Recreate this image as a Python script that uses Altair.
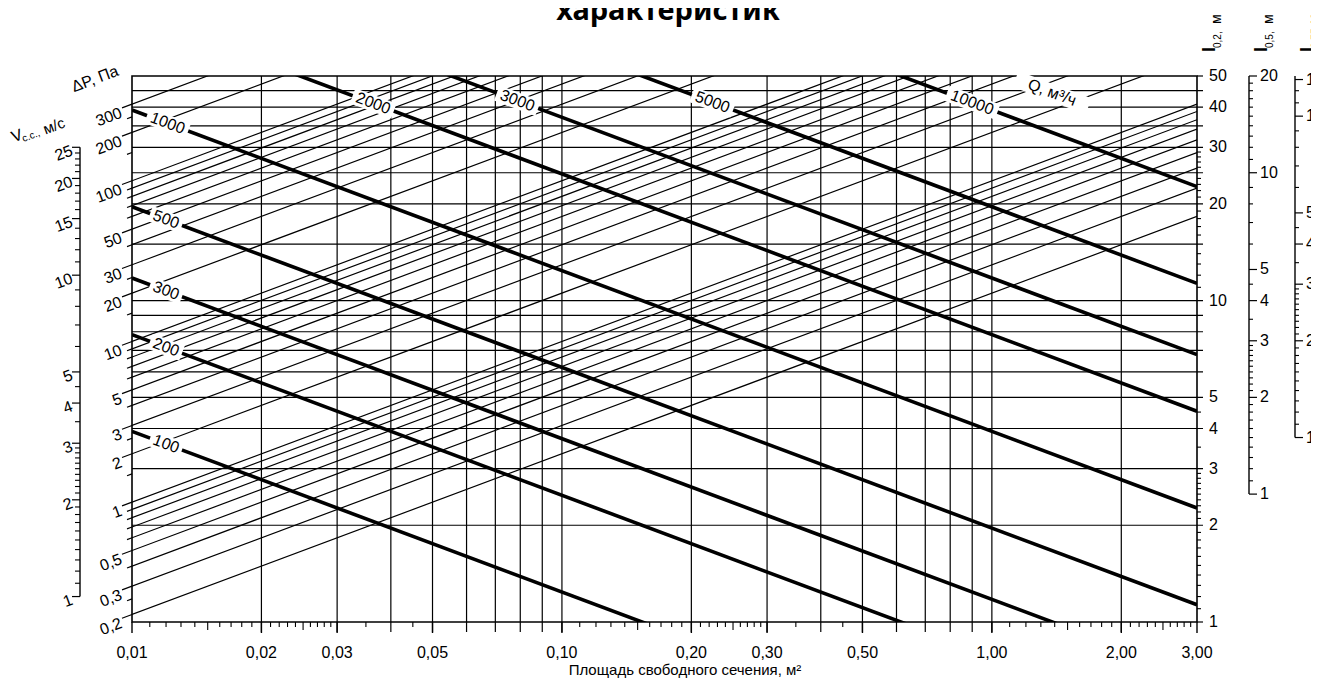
import math
import altair as alt
import pandas as pd

# ---------------- values ----------------
W, H = 1065, 546          # plot area (px)
INK = "#000000"
FONT = "Liberation Sans Narrow, Arial Narrow, Liberation Sans, sans-serif"

# x axis : free area, m2 (log)
X_GRID = [0.02, 0.03, 0.04, 0.05, 0.06, 0.07, 0.08, 0.09, 0.10,
          0.20, 0.30, 0.40, 0.50, 0.60, 0.70, 0.80, 0.90, 1.00, 2.00]
X_LABELS = [0.01, 0.02, 0.03, 0.05, 0.10, 0.20, 0.30, 0.50, 1.00, 2.00, 3.00]
X_LABEL_TEXT = ["0,01", "0,02", "0,03", "0,05", "0,10", "0,20", "0,30", "0,50", "1,00", "2,00", "3,00"]
X_MEDIUM = [0.015, 0.025, 0.15, 0.25, 1.5, 2.5]
MANT = [1.1, 1.2, 1.3, 1.4, 1.6, 1.7, 1.8, 1.9, 2.1, 2.2, 2.3, 2.4, 2.6, 2.7, 2.8, 2.9]
X_MINOR = ([m * 0.01 for m in MANT] + [0.035, 0.045] +
           [m * 0.1 for m in MANT] + [0.35, 0.45] +
           [m * 1.0 for m in MANT])

# right axis l0.2, m (log)
L_GRID = [2, 3, 4, 5, 6, 7, 8, 9, 10, 15, 20, 25, 30, 35, 40, 45]
L_LABELS = [1, 2, 3, 4, 5, 10, 20, 30, 40, 50]
L_MINOR = [1.1, 1.2, 1.3, 1.4, 1.5, 1.6, 1.7, 1.8, 1.9, 2.1, 2.2, 2.3, 2.4, 2.5, 2.6, 2.7, 2.8, 2.9,
           3.5, 4.5, 11, 12, 13, 14, 16, 17, 18, 19, 21, 22, 23, 24, 26, 27, 28, 29]

# pressure-loss lines, dP, Pa (start on left edge, rise with sqrt(A))
DP_LINES = [0.2, 0.3, 0.4, 0.5, 0.6, 0.7, 0.8, 0.9, 1, 2, 3, 4, 5, 6, 7, 8, 9, 10,
            20, 30, 40, 50, 60, 70, 80, 90, 100, 200, 300]
DP_EXTRA_TICKS = [0.25, 1.5, 2.5, 15, 25, 150, 250]
DP_LABELS = [0.2, 0.3, 0.5, 1, 2, 3, 5, 10, 20, 30, 50, 100, 200, 300]
DP_LABEL_TEXT = ["0,2", "0,3", "0,5", "1", "2", "3", "5", "10", "20", "30", "50", "100", "200", "300"]
K_DP = 2.36      # l0.2 on the left edge (A = 0.01) for dP = 1 Pa

# air-flow lines, Q m3/h (thick)
Q_LINES = [100, 200, 300, 500, 1000, 2000, 3000, 5000, 10000]
Q_LABEL_A = [0.0120, 0.0120, 0.0120, 0.0120, 0.0121, 0.0364, 0.0788, 0.224, 0.900]
K_Q = 0.00392    # l0.2 = K_Q * Q / sqrt(A)

# left velocity scale V, m/s
V_LABELS = [1, 2, 3, 4, 5, 10, 15, 20, 25]
V_MINOR = [1.1, 1.2, 1.3, 1.4, 1.5, 1.6, 1.7, 1.8, 1.9, 2.1, 2.2, 2.3, 2.4, 2.5, 2.6, 2.7, 2.8, 2.9,
           3.5, 4.5, 6, 7, 8, 9, 11, 12, 13, 14, 16, 17, 18, 19, 21, 22, 23, 24]
V_TO_L = 1.2

# right scales l0.5 and l0.75
L05_LABELS = [1, 2, 3, 4, 5, 10, 20]
L05_MINOR = [1.1, 1.2, 1.3, 1.4, 1.5, 1.6, 1.7, 1.8, 1.9, 2.1, 2.2, 2.3, 2.4, 2.5, 2.6, 2.7, 2.8, 2.9,
             3.5, 4.5, 6, 7, 8, 9, 11, 12, 13, 14, 15, 16, 17, 18, 19]
L075_LABELS = [1, 2, 3, 4, 5, 10, 13]
L075_MINOR = [1.1, 1.2, 1.3, 1.4, 1.5, 1.6, 1.7, 1.8, 1.9, 2.1, 2.2, 2.3, 2.4, 2.5, 2.6, 2.7, 2.8, 2.9,
              3.5, 4.5, 6, 7, 8, 9, 11, 12]

# ---------------- helpers ----------------
XS = alt.Scale(type="log", domain=[0.01, 3.0], nice=False)
YS = alt.Scale(type="log", domain=[1, 50], nice=False)
PX_DEC_X = W / math.log10(300.0)
ANG = math.degrees(math.atan((H / math.log10(50.0)) * 0.5 / PX_DEC_X))


def X(f):
    return alt.X(f"{f}:Q", scale=XS, axis=None)


def Y(f):
    return alt.Y(f"{f}:Q", scale=YS, axis=None)


def chart(d):
    return alt.Chart(pd.DataFrame(d))


def a_shift(px):
    return 0.01 * 10 ** (-px / PX_DEC_X)


layers = []

# vertical grid + long ticks
layers.append(chart({"A": X_GRID}).mark_rule(color=INK, strokeWidth=1.2).encode(
    x=X("A"), y=alt.value(0), y2=alt.value(H + 10)))
layers.append(chart({"A": X_LABELS}).mark_rule(color=INK, strokeWidth=1.4).encode(
    x=X("A"), y=alt.value(H), y2=alt.value(H + 11)))
layers.append(chart({"A": X_MINOR}).mark_rule(color=INK, strokeWidth=1.1).encode(
    x=X("A"), y=alt.value(H), y2=alt.value(H + 5)))
layers.append(chart({"A": X_MEDIUM}).mark_rule(color=INK, strokeWidth=1.1).encode(
    x=X("A"), y=alt.value(H), y2=alt.value(H + 8)))

# horizontal grid (l0.2) + right ticks
layers.append(chart({"l": L_GRID}).mark_rule(color=INK, strokeWidth=1.2).encode(
    y=Y("l"), x=alt.value(0), x2=alt.value(W + 6)))
layers.append(chart({"l": [1, 50]}).mark_rule(color=INK, strokeWidth=1.2).encode(
    y=Y("l"), x=alt.value(W), x2=alt.value(W + 6)))
layers.append(chart({"l": L_MINOR}).mark_rule(color=INK, strokeWidth=1.1).encode(
    y=Y("l"), x=alt.value(W), x2=alt.value(W + 4)))

# dP lines
dp = pd.DataFrame({"dp": DP_LINES})
dp["A1"] = 0.01
dp["A2"] = 3.0
dp["l1"] = K_DP * dp["dp"] ** 0.5
dp["l2"] = dp["l1"] * (dp["A2"] / 0.01) ** 0.5
layers.append(alt.Chart(dp).mark_rule(color=INK, strokeWidth=1.2, clip=True).encode(
    x=X("A1"), x2="A2", y=Y("l1"), y2="l2"))

# Q lines
q = pd.DataFrame({"Q": Q_LINES, "Alab": Q_LABEL_A})
q["A1"] = 0.01
q["A2"] = 3.0
q["l1"] = K_Q * q["Q"] / q["A1"] ** 0.5
q["l2"] = K_Q * q["Q"] / q["A2"] ** 0.5
q["llab"] = K_Q * q["Q"] / q["Alab"] ** 0.5
q["txt"] = q["Q"].astype(str)
q["n"] = q["txt"].str.len()
layers.append(alt.Chart(q).mark_rule(color=INK, strokeWidth=3.6, clip=True, strokeCap="butt").encode(
    x=X("A1"), x2="A2", y=Y("l1"), y2="l2"))


# white masks behind the Q labels
def mask(df, width, height=16):
    h = height / width
    path = f"M-1,-{h:.3f}L1,-{h:.3f}L1,{h:.3f}L-1,{h:.3f}Z"
    return alt.Chart(df).mark_point(shape=path, filled=True, fill="white", opacity=1,
                                    strokeWidth=0, angle=ANG, size=width * width).encode(
        x=X("Alab"), y=Y("llab"))


for n, wid in [(3, 34), (4, 44), (5, 54)]:
    layers.append(mask(q[q["n"] == n], wid))
qlab = pd.DataFrame({"Alab": [1.38], "llab": [44.4], "txt": ["Q, м³/ч"]})
layers.append(mask(qlab, 78, 17))

layers.append(alt.Chart(q).mark_text(font=FONT, fontSize=16, angle=ANG, color=INK,
                                     align="center", baseline="middle").encode(
    x=X("Alab"), y=Y("llab"), text="txt:N"))
layers.append(alt.Chart(qlab).mark_text(font=FONT, fontSize=16, angle=ANG, color=INK,
                                        align="center", baseline="middle").encode(
    x=X("Alab"), y=Y("llab"), text="txt:N"))


# dP ticks (slanted) on the left edge
def dp_ticks(vals, length, width):
    d = pd.DataFrame({"dp": vals})
    d["A1"] = 0.01
    d["A2"] = a_shift(length)
    d["l1"] = K_DP * d["dp"] ** 0.5
    d["l2"] = d["l1"] * (d["A2"] / 0.01) ** 0.5
    return alt.Chart(d).mark_rule(color=INK, strokeWidth=width).encode(
        x=X("A1"), x2="A2", y=Y("l1"), y2="l2")


unl = [v for v in DP_LINES + DP_EXTRA_TICKS if v not in DP_LABELS]
layers.append(dp_ticks(unl, 5, 1.2))
layers.append(dp_ticks(DP_LABELS, 10, 1.2))
dl = pd.DataFrame({"dp": DP_LABELS, "txt": DP_LABEL_TEXT})
dl["A"] = a_shift(12)
dl["l"] = K_DP * dl["dp"] ** 0.5 * (dl["A"] / 0.01) ** 0.5
layers.append(alt.Chart(dl).mark_text(font=FONT, fontSize=16, angle=360 - ANG, color=INK,
                                      align="right", baseline="middle", dy=4).encode(
    x=X("A"), y=Y("l"), text="txt:N"))

# V scale (left)
VX = -52
layers.append(chart({"l1": [V_TO_L * 1], "l2": [V_TO_L * 25]}).mark_rule(color=INK, strokeWidth=1.4).encode(
    x=alt.value(VX), y=Y("l1"), y2="l2"))
layers.append(chart({"l": [V_TO_L * v for v in V_LABELS]}).mark_rule(color=INK, strokeWidth=1.2).encode(
    x=alt.value(VX), x2=alt.value(VX - 8), y=Y("l")))
layers.append(chart({"l": [V_TO_L * v for v in V_MINOR]}).mark_rule(color=INK, strokeWidth=1.1).encode(
    x=alt.value(VX), x2=alt.value(VX - 5), y=Y("l")))
layers.append(chart({"l": [V_TO_L * v for v in V_LABELS], "txt": [str(v) for v in V_LABELS]}).mark_text(
    font=FONT, fontSize=16, angle=360 - ANG, color=INK, align="right", baseline="middle", dy=3).encode(
    x=alt.value(VX - 9), y=Y("l"), text="txt:N"))

# right labels l0.2
layers.append(chart({"l": L_LABELS, "txt": [str(v) for v in L_LABELS]}).mark_text(
    font=FONT, fontSize=16, color=INK, align="left", baseline="middle").encode(
    x=alt.value(W + 12), y=Y("l"), text="txt:N"))


# l0.5 and l0.75 scales
def side_scale(xpos, factor, top, labels, minor):
    out = []
    out.append(chart({"l1": [factor * 1], "l2": [factor * top]}).mark_rule(color=INK, strokeWidth=1.4).encode(
        x=alt.value(xpos), y=Y("l1"), y2="l2"))
    out.append(chart({"l": [factor * v for v in labels]}).mark_rule(color=INK, strokeWidth=1.2).encode(
        x=alt.value(xpos), x2=alt.value(xpos + 8), y=Y("l")))
    out.append(chart({"l": [factor * v for v in minor]}).mark_rule(color=INK, strokeWidth=1.1).encode(
        x=alt.value(xpos), x2=alt.value(xpos + 4), y=Y("l")))
    out.append(chart({"l": [factor * v for v in labels], "txt": [str(v) for v in labels]}).mark_text(
        font=FONT, fontSize=16, color=INK, align="left", baseline="middle").encode(
        x=alt.value(xpos + 11), y=Y("l"), text="txt:N"))
    return out


layers += side_scale(1117, 2.5, 20, L05_LABELS, L05_MINOR)
layers += side_scale(1163, 0.75 / 0.2, 50 / 3.75, L075_LABELS, L075_MINOR)


# free texts (titles)
def txt(t, x, y, size=16, angle=0, align="center", baseline="middle", weight="normal", font=FONT):
    return alt.Chart(pd.DataFrame({"t": [t]})).mark_text(
        font=font, fontSize=size, angle=angle, align=align, baseline=baseline,
        fontWeight=weight, color=INK).encode(x=alt.value(x), y=alt.value(y), text="t:N")


layers.append(chart({"A": X_LABELS, "txt": X_LABEL_TEXT}).mark_text(
    font=FONT, fontSize=16, color=INK, align="center", baseline="top").encode(
    x=X("A"), y=alt.value(H + 23), text="txt:N"))

layers.append(txt("Площадь свободного сечения, м²", 553, 599, size=15, baseline="alphabetic"))
layers.append(txt("характеристик", 536, -56, size=29, baseline="alphabetic", weight="bold",
                  font="Noto Sans, Open Sans, sans-serif"))
layers.append(txt("ΔP, Па", -37, 3, size=16, angle=360 - ANG))
layers.append(txt("V", -115, 60, size=16, angle=360 - ANG))
layers.append(txt("с.с.,", -101, 60, size=10, angle=360 - ANG))
layers.append(txt("м/с", -78, 50, size=15, angle=360 - ANG))

for xl, sub in [(1083, "0,2,"), (1135, "0,5,"), (1181, "0,75,")]:
    layers.append(txt("l", xl, -24, size=18, angle=270, align="left", baseline="alphabetic", weight="bold"))
    layers.append(txt(sub, xl + 6, -28, size=10, angle=270, align="left", baseline="alphabetic"))
    layers.append(txt("м", xl + 6, -52, size=14, angle=270, align="left", baseline="alphabetic"))

chart_all = alt.layer(*layers).properties(
    width=W, height=H,
    padding={"left": 124, "top": 68, "right": 114, "bottom": 57},
    autosize=alt.AutoSizeParams(type="none"),
).configure_view(stroke=INK, strokeWidth=1.6)

chart_all.save("out.html", embed_options={"renderer": "svg", "actions": False})
